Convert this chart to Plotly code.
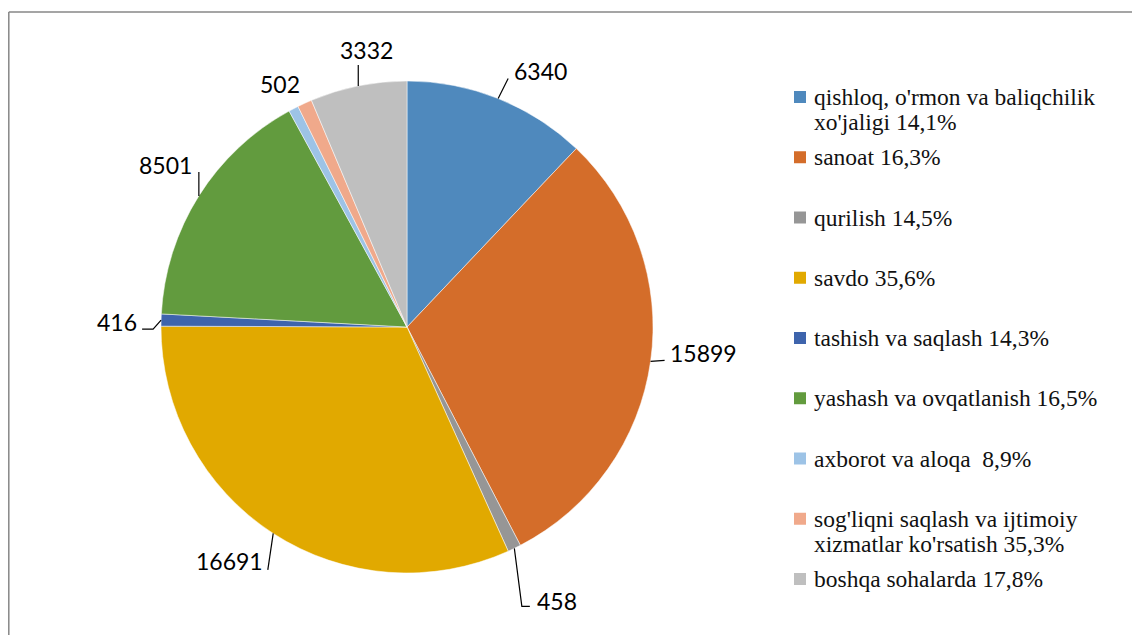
import math
import plotly.graph_objects as go

# ---------------- data ----------------
categories = [
    "qishloq, o'rmon va baliqchilik<br>xo'jaligi 14,1%",
    "sanoat 16,3%",
    "qurilish 14,5%",
    "savdo 35,6%",
    "tashish va saqlash 14,3%",
    "yashash va ovqatlanish 16,5%",
    "axborot va aloqa  8,9%",
    "sog'liqni saqlash va ijtimoiy<br>xizmatlar ko'rsatish 35,3%",
    "boshqa sohalarda 17,8%",
]
values = [6340, 15899, 458, 16691, 416, 8501, 340, 502, 3332]
show_value = [True, True, True, True, True, True, False, True, True]

# ---------------- styles ----------------
colors = ["#4F89BD", "#D46D2A", "#969696", "#E1A900", "#3E64AC",
          "#629B3E", "#9DC3E6", "#F0A98B", "#BFBFBF"]

PAGE_W, PAGE_H = 1140, 635
OFF = 8                               # browser body margin
W, H = PAGE_W - OFF, PAGE_H - OFF     # figure size
CX, CY, R = 407, 327, 246             # pie centre / radius in page pixels

# label centre offsets and leader waypoints, relative to slice edge midpoint (pixels)
label_off = [(42, -28), (53, -8), (43, 53), (-44, 28), (-44, 2),
             (-33, -31), None, (-25, -19), (8, -36)]
leader_off = [[(10, -20)], [(14, -1)], [(7.5, 58), (15.5, 58)], [(-5.4, 36.5)],
              [(-8, 9), (-19, 9)], [(0, -24)], [], [], [(0, -21)]]

LEG_X, LEG_Y0, LEG_STEP, LEG_LINE = 800, 97, 60.25, 25

fig = go.Figure()


def px_x(x):
    return (x - OFF) / W


def px_y(y):
    return 1 - (y - OFF) / H


fig.add_trace(go.Pie(
    labels=categories,
    values=values,
    sort=False,
    direction="clockwise",
    rotation=0,
    marker=dict(colors=colors, line=dict(color="white", width=0.5)),
    textinfo="none",
    hoverinfo="label+value",
    showlegend=False,
    domain=dict(x=[px_x(CX - R), px_x(CX + R)],
                y=[px_y(CY + R), px_y(CY - R)]),
))

# invisible axes in page-pixel coordinates for labels / leaders / legend
fig.update_xaxes(range=[OFF, PAGE_W], visible=False, fixedrange=True)
fig.update_yaxes(range=[PAGE_H, OFF], visible=False, fixedrange=True)

total = sum(values)
cum = 0
shapes = []
annotations = []
for i, v in enumerate(values):
    mid = (cum + v / 2) / total * 2 * math.pi
    cum += v
    ex = CX + R * math.sin(mid)
    ey = CY - R * math.cos(mid)
    if show_value[i] and label_off[i] is not None:
        pts = [(ex, ey)] + [(ex + dx, ey + dy) for dx, dy in leader_off[i]]
        if len(pts) > 1:
            path = "M " + " L ".join(f"{x:.2f},{y:.2f}" for x, y in pts)
            shapes.append(dict(type="path", xref="x", yref="y", path=path,
                               line=dict(color="black", width=1.2)))
        lx, ly = ex + label_off[i][0], ey + label_off[i][1]
        annotations.append(dict(x=lx, y=ly, xref="x", yref="y", text=str(v),
                                showarrow=False, xanchor="center", yanchor="middle",
                                font=dict(family="Lato", size=23, color="black")))

# legend (manual, Excel-like spacing)
for i, (cat, col) in enumerate(zip(categories, colors)):
    yc = LEG_Y0 + LEG_STEP * i
    shapes.append(dict(type="rect", xref="x", yref="y",
                       x0=LEG_X - 6, x1=LEG_X + 6, y0=yc - 6, y1=yc + 6,
                       fillcolor=col, line=dict(width=0)))
    for j, line in enumerate(cat.split("<br>")):
        annotations.append(dict(x=LEG_X + 12, y=yc + LEG_LINE * j, xref="x", yref="y",
                                text=line, showarrow=False, xanchor="left",
                                yanchor="middle",
                                font=dict(family="Liberation Serif",
                                          size=23.5, color="#111111")))

# chart frame (left and top edges visible)
shapes.append(dict(type="line", xref="x", yref="y", x0=8.8, x1=8.8, y0=12, y1=PAGE_H,
                   line=dict(color="#878787", width=1.5)))
shapes.append(dict(type="line", xref="x", yref="y", x0=8.8, x1=PAGE_W, y0=12, y1=12,
                   line=dict(color="#878787", width=1.5)))

fig.update_layout(
    width=W, height=H, autosize=False,
    margin=dict(l=0, r=0, t=0, b=0),
    paper_bgcolor="white", plot_bgcolor="white",
    shapes=shapes, annotations=annotations,
    showlegend=False,
)

fig.write_html("out.html", config={"displayModeBar": False})
